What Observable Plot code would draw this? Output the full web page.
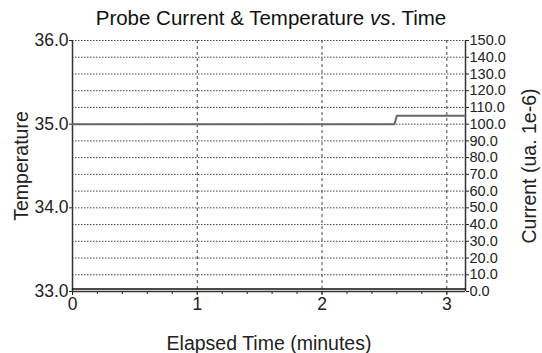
<!DOCTYPE html>
<html>
<head>
<meta charset="utf-8">
<script src="https://cdn.jsdelivr.net/npm/d3@7"></script>
<script src="https://cdn.jsdelivr.net/npm/@observablehq/plot@0.6"></script>
<style>
  html, body { margin: 0; padding: 0; background: #fff; }
  #wrap { position: relative; width: 542px; height: 353px; font-family: "Liberation Sans", Arial, sans-serif; }
  #title { position: absolute; left: 0; top: 8px; width: 542px; text-align: center; font-size: 20.5px; line-height: 1; color: #111; }
  #chart { position: absolute; left: 0; top: 0; }
</style>
</head>
<body>
<div id="wrap">
  <div id="chart"></div>
  <div id="title">Probe Current &amp; Temperature <i>vs</i>. Time</div>
</div>
<script>
// Data
const time = [0, 2.58, 2.60, 3.15];                 // minutes
const temperature = [35.0, 35.0, 35.1, 35.1];       // left axis
const current = [1.5, 1.5, 1.5, 1.5];               // right axis (ua. 1e-6)

// Tick labels
const tempTicks = [33.0, 34.0, 35.0, 36.0];
const currentTicks = [0, 10, 20, 30, 40, 50, 60, 70, 80, 90, 100, 110, 120, 130, 140, 150];
const timeTicks = [0, 1, 2, 3];
const timeMinorTicks = [0, 0.2, 0.4, 0.6, 0.8, 1, 1.2, 1.4, 1.6, 1.8, 2, 2.2, 2.4, 2.6, 2.8, 3];
const xMax = 3.15;

// Temperature axis (33..36) is aligned with current axis (0..150)
const tempToCurrent = t => (t - 33) * 50;
const currentToTemp = c => 33 + c / 50;

const tempData = time.map((t, i) => ({time: t, value: tempToCurrent(temperature[i])}));
const currData = time.map((t, i) => ({time: t, value: current[i]}));

const chart = Plot.plot({
  width: 542,
  height: 353,
  marginLeft: 72,
  marginRight: 77,
  marginTop: 40,
  marginBottom: 62,
  style: {fontFamily: "'Liberation Sans', Arial, sans-serif", fontSize: "17px", color: "#222", background: "transparent"},
  x: {domain: [0, xMax]},
  y: {domain: [0, 150]},
  marks: [
    Plot.ruleY(currentTicks, {stroke: "#444", strokeDasharray: "1.5,1.5", strokeWidth: 1}),
    Plot.ruleX(timeTicks.slice(1), {stroke: "#444", strokeDasharray: "3,3", strokeWidth: 1}),
    Plot.axisY({
      anchor: "left", ticks: tempTicks.map(tempToCurrent), tickFormat: c => currentToTemp(c).toFixed(1),
      tickSize: 3, tickPadding: 1, fontSize: 17.5,
      label: "Temperature", labelAnchor: "center", labelArrow: "none", labelOffset: 58
    }),
    Plot.axisY({
      anchor: "right", ticks: currentTicks, tickFormat: d => d.toFixed(1),
      tickSize: 3, tickPadding: 1, fontSize: 14.5,
      label: "Current (ua. 1e-6)", labelAnchor: "center", labelArrow: "none", labelOffset: 70
    }),
    Plot.axisX({
      ticks: timeTicks, tickFormat: d => String(d), tickSize: 4, tickPadding: 2, fontSize: 17.5,
      label: "Elapsed Time (minutes)", labelAnchor: "center", labelArrow: "none", labelOffset: 58
    }),
    Plot.axisX({ticks: timeMinorTicks, tickFormat: () => "", tickSize: 3, label: null}),
    Plot.ruleX([0, xMax], {stroke: "#333", strokeWidth: 1.5}),
    Plot.ruleY([0], {stroke: "#333", strokeWidth: 1.5}),
    Plot.line(tempData, {x: "time", y: "value", stroke: "#666", strokeWidth: 2}),
    Plot.line(currData, {x: "time", y: "value", stroke: "#111", strokeWidth: 1.5})
  ]
});
// enlarge axis label fonts
chart.querySelectorAll("[aria-label='y-axis label'], [aria-label='x-axis label']").forEach(g => {
  g.setAttribute("font-size", "19.5");
  g.querySelectorAll("text").forEach(t => t.setAttribute("font-size", "19.5"));
});
document.getElementById("chart").appendChild(chart);
</script>
</body>
</html>
